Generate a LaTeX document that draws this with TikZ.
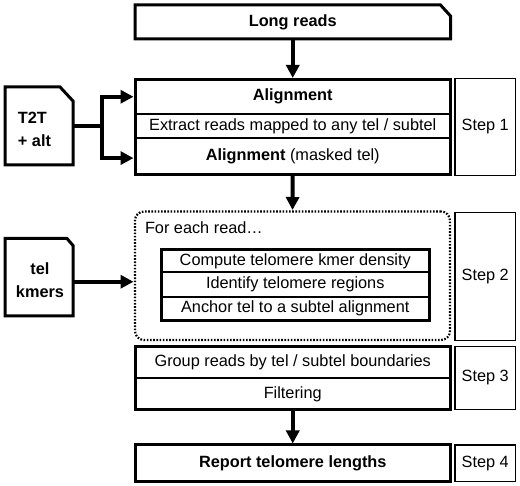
\documentclass[tikz,border=0pt]{standalone}
\usepackage{fontspec}
\setmainfont{Liberation Sans}
\usetikzlibrary{arrows.meta}
\begin{document}
\begin{tikzpicture}[x=1pt,y=-1pt,
  every node/.style={font=\fontsize{16.3}{19}\selectfont, inner sep=0pt, outer sep=0pt},
  cell/.style={draw, line width=2pt, minimum width=315.5pt},
  innercell/.style={draw, line width=2pt, minimum width=268.5pt},
  steplabel/.style={draw, line width=1.2pt, minimum width=60.5pt},
  outline/.style={line width=3pt},
  flow/.style={line width=4pt, -{Triangle[length=13pt,width=13pt]}, shorten >=1.5pt},
  docnode/.style={minimum width=68pt, minimum height=78pt},
  doctext/.style={font=\fontsize{16.3}{23}\selectfont\bfseries},
]
\useasboundingbox (0,0) rectangle (520,486);

% Long reads
\node[minimum width=315.5pt, minimum height=34pt] (lr) at (292.75,22) {\bfseries Long reads};
\draw[outline] (lr.south west) -- (lr.north west) -- ([xshift=-10pt]lr.north east) -- ([yshift=-11pt]lr.north east) -- (lr.south east) -- cycle;

% Step 1 block
\node[cell, minimum height=34.5pt] (al1) at (292.75,96.75) {\bfseries Alignment};
\node[cell, minimum height=23.7pt] (al2) at (292.75,125.85) {Extract reads mapped to any tel / subtel};
\node[cell, minimum height=36.8pt] (al3) at (292.75,156.1) {\textbf{Alignment} (masked tel)};
\draw[outline] (al1.north west) rectangle (al3.south east);
\node[steplabel, minimum height=97pt] (s1) at (485.25,127) {Step 1};

% T2T document
\node[docnode] (t2t) at (39,126) {};
\draw[outline] (t2t.south west) -- (t2t.north west) -- ([xshift=-13pt]t2t.north east) -- ([yshift=-14pt]t2t.north east) -- (t2t.south east) -- cycle;
\node[doctext, align=left] (t2tlabel) at (34.5,129) {T2T\\+ alt};

% tel kmers document
\node[docnode, minimum height=77.5pt] (km) at (39,277.25) {};
\draw[outline] (km.south west) -- (km.north west) -- ([xshift=-6pt]km.north east) -- ([yshift=-7pt]km.north east) -- (km.south east) -- cycle;
\node[doctext, align=center] (kmlabel) at (40,280) {tel\\kmers};

% Step 2 dotted box
\node[draw, line width=2.2pt, dash pattern=on 1.6pt off 1.6pt, rounded corners=9pt, minimum width=315pt, minimum height=128.5pt] (dots) at (292.5,275.75) {};
\node[anchor=west] (fer) at (145,228) {For each read…};
\node[innercell, minimum height=22.8pt] (c1) at (295.25,260.9) {Compute telomere kmer density};
\node[innercell, minimum height=24.4pt] (c2) at (295.25,284.5) {Identify telomere regions};
\node[innercell, minimum height=23.8pt] (c3) at (295.25,308.6) {Anchor tel to a subtel alignment};
\draw[outline] (c1.north west) rectangle (c3.south east);
\node[steplabel, minimum height=128pt] (s2) at (485.25,276.5) {Step 2};

% Step 3 block
\node[cell, minimum height=31.8pt] (g1) at (292.75,362.4) {Group reads by tel / subtel boundaries};
\node[cell, minimum height=31.2pt] (g2) at (292.75,393.9) {Filtering};
\draw[outline] (g1.north west) rectangle (g2.south east);
\node[steplabel, minimum height=63pt] (s3) at (485.25,378) {Step 3};

% Step 4
\node[draw, line width=3pt, minimum width=315.5pt, minimum height=36.5pt] (rep) at (292.75,463.25) {\bfseries Report telomere lengths};
\node[steplabel, minimum height=36.5pt] (s4) at (485.25,463.25) {Step 4};

% connectors
\coordinate (junc) at (102,126);
\draw[line width=4pt] (t2t.east) -- (junc);
\draw[flow] (junc) |- (al1.west);
\draw[flow] (junc) |- ([yshift=-2pt]al3.west);
\draw[flow] (lr.south) -- (al1.north);
\draw[flow] (al3.south) -- (dots.north);
\draw[flow] ([yshift=-4.5pt]km.east) -- ([yshift=-4.5pt]km.east -| dots.west);
\draw[flow] (g2.south) -- (rep.north);
\end{tikzpicture}
\end{document}
